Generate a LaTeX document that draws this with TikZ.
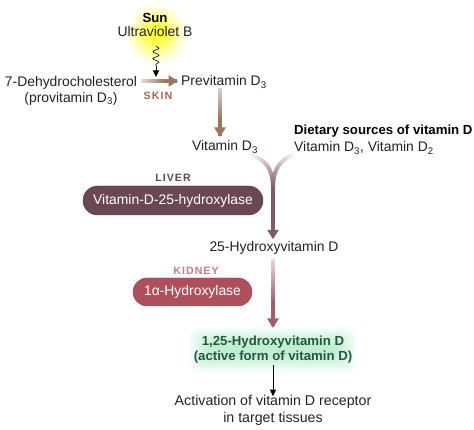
\documentclass[tikz,border=0pt]{standalone}
\usepackage{fontspec}
\setmainfont{Liberation Sans}
\usetikzlibrary{arrows.meta,calc,decorations.pathmorphing}
\definecolor{brownA}{HTML}{9A7860}
\definecolor{plumA}{HTML}{7D5C68}
\definecolor{roseA}{HTML}{A35C6C}
\definecolor{pillA}{HTML}{6A4853}
\definecolor{pillB}{HTML}{AF4F5E}
\definecolor{greenT}{HTML}{1E5A3C}
\definecolor{txt}{HTML}{222222}
\pgfdeclareradialshading{sunglow}{\pgfpointorigin}{color(0bp)=(yellow!80); color(7bp)=(yellow!68); color(14bp)=(yellow!35); color(21bp)=(yellow!6); color(25bp)=(white); color(50bp)=(white)}
\tikzset{
  x=1pt,y=-1pt,
  lbl/.style={font=\fontsize{13.9}{16}\selectfont,text=txt,inner sep=0pt,align=center},
  boldlbl/.style={lbl,font=\fontsize{13.2}{16}\selectfont\bfseries,text=black},
  organ/.style={inner sep=0pt,font=\fontsize{10.6}{12}\selectfont\bfseries\addfontfeature{LetterSpace=10}},
}
\newcommand{\gradarrow}[4]{%
  \foreach \t [evaluate=\t as \m using {#4+(100-#4)*min(1,\t*1.6)}, evaluate=\t as \e using {\t+0.026}] in {0,0.025,...,0.95}{%
    \draw[line width=4pt,draw=#1!\m!white] ($(#2)!\t!(#3)$) -- ($(#2)!\e!(#3)$);
  }%
  \draw[draw=#1,-{Triangle[length=9.5pt,width=11pt]},line width=4pt] ($(#2)!0.94!(#3)$) -- (#3);
}
\newcommand{\gradcurve}[5]{%
  \foreach \t [evaluate=\t as \m using {8+92*\t}, evaluate=\t as \e using {\t+0.045}] in {0,0.04,...,0.97}{%
    \path (#2) .. controls (#3) and (#4) .. (#5) coordinate[pos=\t] (pp) coordinate[pos=\e] (qq);
    \draw[line width=4pt,draw=#1!\m!white] (pp) -- (qq);
  }%
}
\begin{document}
\begin{tikzpicture}
\useasboundingbox (0,0) rectangle (474,430);
% sun glow
\shade[shading=sunglow] (156,34) circle[radius=34];
% green glow
\foreach \i in {0,...,13}{
  \fill[green!45!teal,opacity=0.02,rounded corners=10pt] ({189+\i*1.5},{327+\i*1.3}) rectangle ({357-\i*1.5},{373-\i*1.3});
}
% text nodes
\node[boldlbl] (sun) at (155,18) {Sun};
\node[lbl] (uvb) at (155,32) {Ultraviolet B};
\node[lbl] (dehydro) at (71,90.5) {7-Dehydrocholesterol\\(provitamin D\textsubscript{3})};
\node[lbl,anchor=west] (previt) at (181,82) {Previtamin D\textsubscript{3}};
\node[organ,text=brownA!85!red] (skin) at (158,96) {SKIN};
\node[lbl] (vitd) at (225,147) {Vitamin D\textsubscript{3}};
\node[boldlbl,anchor=west] (diet) at (294,131) {Dietary sources of vitamin D};
\node[lbl,anchor=west] (d3d2) at (294,148) {Vitamin D\textsubscript{3}, Vitamin D\textsubscript{2}};
\node[organ,text=pillA] (liver) at (173,178) {LIVER};
\node[fill=pillA,draw=pillA!80!black,rounded corners=14.5pt,minimum width=180pt,minimum height=29pt,text=white,inner sep=0pt,font=\fontsize{13.9}{16}\selectfont] (hyd25) at (173,200.5) {Vitamin-D-25-hydroxylase};
\node[lbl] (hydD) at (274,248) {25-Hydroxyvitamin D};
\node[organ,text=pillB!75!white] (kidney) at (196,271) {KIDNEY};
\node[fill=pillB,draw=pillB!80!black,rounded corners=14pt,minimum width=119pt,minimum height=28pt,text=white,inner sep=0pt,font=\fontsize{13.9}{16}\selectfont] (hyd1) at (192.5,292) {1α-Hydroxylase};
\node[lbl,text=greenT,font=\fontsize{13.2}{15}\selectfont] (active) at (273,349.5) {\textbf{1,25-Hydroxyvitamin D}\\\textbf{(active form of vitamin D)}};
\node[lbl,font=\fontsize{14.2}{17}\selectfont] (target) at (273,410.5) {Activation of vitamin D receptor\\in target tissues};
% connector end points
\coordinate (a1) at (141,81);
\coordinate (a2) at ($(previt.west)+(-3,-1)$);
\coordinate (b1) at (220,88);
\coordinate (b2) at (220,137);
\coordinate (join) at (273,188);
\coordinate (c1) at (252,155);
\coordinate (c2) at (293,155);
\coordinate (c3) at ($(hydD.north)+(-1,-2)$);
\coordinate (d1) at (273,259);
\coordinate (d2) at (273,328);
% connectors
\gradarrow{brownA}{a1}{a2}{25}
\gradarrow{brownA}{b1}{b2}{35}
\gradcurve{plumA}{c1}{268,161}{273,172}{join}
\gradcurve{plumA}{c2}{278,161}{273,172}{join}
\draw[line width=4pt,draw=plumA,-{Triangle[length=9.5pt,width=11pt]}] (join) -- (c3);
\gradarrow{roseA}{d1}{d2}{25}
% sunlight squiggle
\coordinate (w1) at (156,46);
\coordinate (w2) at (156,66);
\draw[black,line width=0.6pt,decorate,decoration={snake,amplitude=3pt,segment length=7pt}] (w1) -- (w2);
\draw[black,line width=0.7pt,-{Triangle[length=6.5pt,width=6pt]}] (w2) -- (156,77);
\draw[black,line width=0.7pt,-{Triangle[length=6.5pt,width=6pt]}] (273,365) -- ([yshift=-1pt]target.north);
\end{tikzpicture}
\end{document}
